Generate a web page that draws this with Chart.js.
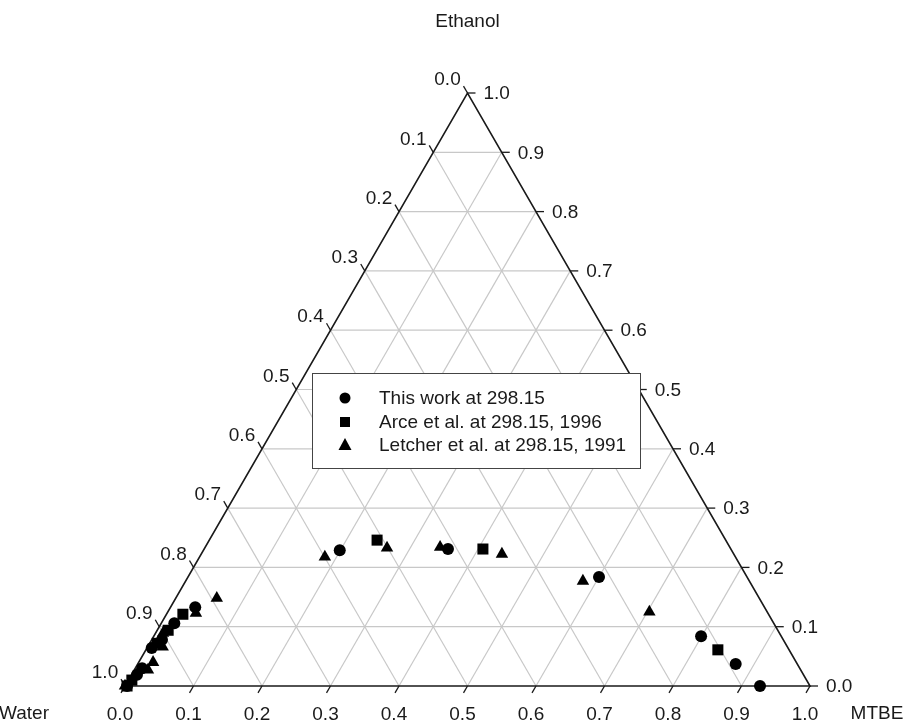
<!DOCTYPE html>
<html><head><meta charset="utf-8">
<script src="https://cdn.jsdelivr.net/npm/chart.js@4/dist/chart.umd.min.js"></script>
<style>html,body{margin:0;padding:0;background:#fff}#wrap{width:923px;height:726px;position:relative}</style>
</head><body><div id="wrap"><canvas id="c"></canvas></div>
<script>
// Component (vertex) names
const axisNames = ['Water', 'MTBE', 'Ethanol'];
// Tick labels shared by the three axes
const tickValues = [0, 0.1, 0.2, 0.3, 0.4, 0.5, 0.6, 0.7, 0.8, 0.9, 1.0];
const tickLabels = ['0.0','0.1','0.2','0.3','0.4','0.5','0.6','0.7','0.8','0.9','1.0'];
// Series names
const seriesNames = ['This work at 298.15', 'Arce et al. at 298.15, 1996', 'Letcher et al. at 298.15, 1991'];
// Mole fractions (MTBE, Ethanol); Water = 1 - MTBE - Ethanol
const thisWorkMTBE    = [0.003, 0.008, 0.010, 0.007, 0.015, 0.019, 0.036, 0.199, 0.356, 0.600, 0.799, 0.873, 0.927];
const thisWorkEthanol = [0.000, 0.019, 0.030, 0.064, 0.078, 0.106, 0.133, 0.229, 0.231, 0.184, 0.084, 0.037, 0.000];
const arceMTBE        = [0.003, 0.005, 0.011, 0.016, 0.024, 0.245, 0.407, 0.835];
const arceEthanol     = [0.000, 0.010, 0.072, 0.094, 0.121, 0.246, 0.231, 0.061];
const letcherMTBE     = [0.000, 0.020, 0.021, 0.011, 0.022, 0.042, 0.060, 0.183, 0.266, 0.343, 0.439, 0.580, 0.703];
const letcherEthanol  = [0.000, 0.027, 0.040, 0.089, 0.066, 0.123, 0.148, 0.2175, 0.233, 0.234, 0.2225, 0.177, 0.125];

const H = Math.sqrt(3) / 2;
function toXY(m, e) { return { x: m + e / 2, y: e * H }; }
function build(ms, es) { return ms.map((m, i) => toXY(m, es[i])); }

const FONT = '19px "Liberation Sans", Arial, sans-serif';
const markerStyles = ['circle', 'rect', 'triangle'];
const markerRadius = [6, 7.8, 7.2];

const ternaryPlugin = {
  id: 'ternary',
  beforeDatasetsDraw(chart) {
    const ctx = chart.ctx, xs = chart.scales.x, ys = chart.scales.y;
    const P = (m, e) => { const q = toXY(m, e); return [xs.getPixelForValue(q.x), ys.getPixelForValue(q.y)]; };
    ctx.save();
    // grid
    ctx.strokeStyle = '#c8c8c8'; ctx.lineWidth = 1.2;
    for (let k = 1; k < 10; k++) {
      const t = tickValues[k];
      const segs = [
        [P(0, t), P(1 - t, t)],          // constant ethanol
        [P(t, 0), P(t, 1 - t)],          // constant MTBE
        [P(1 - t, 0), P(0, 1 - t)]       // constant water
      ];
      segs.forEach(s => { ctx.beginPath(); ctx.moveTo(s[0][0], s[0][1]); ctx.lineTo(s[1][0], s[1][1]); ctx.stroke(); });
    }
    // outline
    ctx.strokeStyle = '#1a1a1a'; ctx.lineWidth = 1.6;
    const A = P(0, 0), B = P(1, 0), C = P(0, 1);
    ctx.beginPath(); ctx.moveTo(A[0], A[1]); ctx.lineTo(B[0], B[1]); ctx.lineTo(C[0], C[1]); ctx.closePath(); ctx.stroke();
    // ticks and labels
    ctx.lineWidth = 1.3; ctx.fillStyle = '#1a1a1a'; ctx.font = FONT;
    const L = 8;
    tickValues.forEach((t, i) => {
      // bottom (MTBE)
      let p = P(t, 0);
      ctx.beginPath(); ctx.moveTo(p[0], p[1]); ctx.lineTo(p[0] - L * 0.5, p[1] + L * H); ctx.stroke();
      ctx.textAlign = 'center'; ctx.textBaseline = 'middle';
      ctx.fillText(tickLabels[i], p[0] - 5, p[1] + 29);
      // right (Ethanol)
      p = P(1 - t, t);
      ctx.beginPath(); ctx.moveTo(p[0], p[1]); ctx.lineTo(p[0] + L, p[1]); ctx.stroke();
      ctx.textAlign = 'left';
      ctx.fillText(tickLabels[i], p[0] + 16, p[1] + 1);
      // left (Water)
      p = P(0, 1 - t);
      ctx.beginPath(); ctx.moveTo(p[0], p[1]); ctx.lineTo(p[0] - L * 0.5, p[1] - L * H); ctx.stroke();
      ctx.textAlign = 'center';
      ctx.fillText(tickLabels[i], p[0] - 20, p[1] - 13);
    });
    // titles
    ctx.textAlign = 'center'; ctx.textBaseline = 'middle';
    ctx.fillText(axisNames[2], C[0], 22);
    ctx.fillText(axisNames[0], 24, 714);
    ctx.fillText(axisNames[1], 877, 714);
    ctx.restore();
  },
  afterDraw(chart) {
    const ctx = chart.ctx;
    ctx.save();
    const bx = 312.5, by = 373.5, bw = 328, bh = 95;
    ctx.fillStyle = '#ffffff'; ctx.fillRect(bx, by, bw, bh);
    ctx.strokeStyle = '#444'; ctx.lineWidth = 1; ctx.strokeRect(bx, by, bw, bh);
    const rows = [398, 422, 445];
    ctx.font = FONT; ctx.textAlign = 'left'; ctx.textBaseline = 'middle';
    rows.forEach((ry, i) => {
      ctx.fillStyle = '#000';
      const mx = 345;
      ctx.beginPath();
      if (i === 0) { ctx.arc(mx, ry, 5.5, 0, Math.PI * 2); }
      else if (i === 1) { ctx.rect(mx - 5, ry - 5, 10, 10); }
      else { ctx.moveTo(mx, ry - 7); ctx.lineTo(mx + 6.5, ry + 5); ctx.lineTo(mx - 6.5, ry + 5); ctx.closePath(); }
      ctx.fill();
      ctx.fillStyle = '#1a1a1a';
      ctx.fillText(seriesNames[i], 379, ry + 1);
    });
    ctx.restore();
  }
};

const datasets = [
  build(thisWorkMTBE, thisWorkEthanol),
  build(arceMTBE, arceEthanol),
  build(letcherMTBE, letcherEthanol)
].map((d, i) => ({
  label: seriesNames[i], data: d,
  pointStyle: markerStyles[i], pointRadius: markerRadius[i], pointHoverRadius: markerRadius[i],
  backgroundColor: '#000', borderColor: '#000', borderWidth: 0, clip: false
}));

new Chart(document.getElementById('c'), {
  type: 'scatter',
  data: { datasets },
  options: {
    responsive: true, maintainAspectRatio: false, animation: false,
    layout: { padding: { left: 125, right: 113, top: 93, bottom: 40 } },
    plugins: { legend: { display: false }, tooltip: { enabled: false } },
    scales: {
      x: { type: 'linear', min: 0, max: 1, display: false },
      y: { type: 'linear', min: 0, max: H, display: false }
    }
  },
  plugins: [ternaryPlugin]
});
</script>
</body></html>
